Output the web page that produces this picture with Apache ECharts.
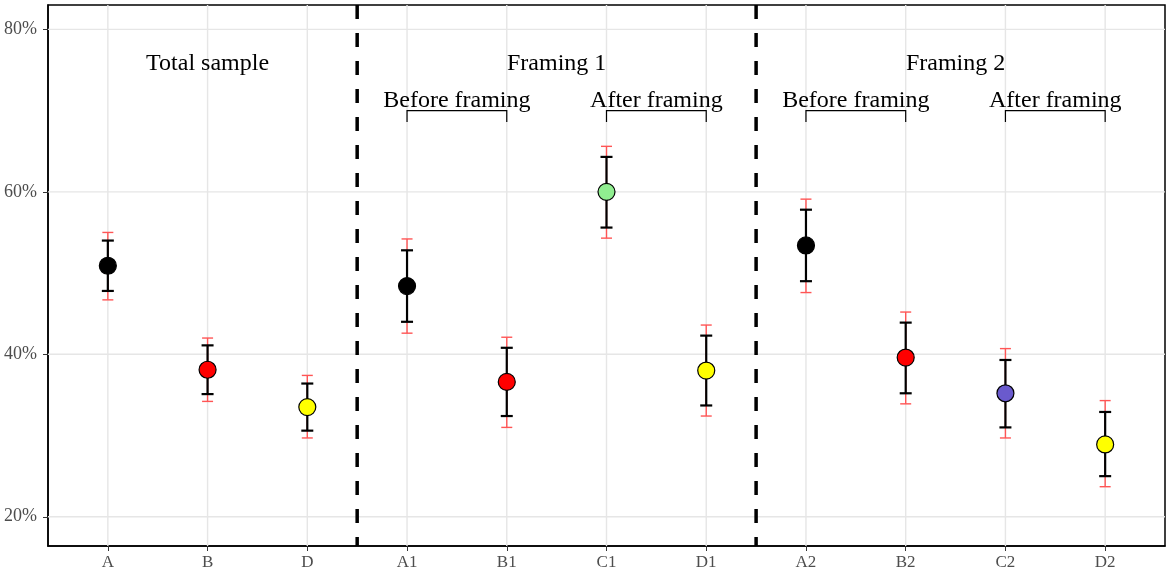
<!DOCTYPE html>
<html><head><meta charset="utf-8">
<script src="https://cdn.jsdelivr.net/npm/echarts@6/dist/echarts.min.js"></script>
<style>html,body{margin:0;padding:0;background:#fff}#c{width:1170px;height:574px}</style>
</head><body><div id="c"></div>
<script>
const categories = ['A','B','D','A1','B1','C1','D1','A2','B2','C2','D2'];
const pointValues = [50.9,38.1,33.5,48.4,36.6,60.0,38.0,53.4,39.6,35.2,28.9];
const pointColors = ['#000000','#FF0000','#FFFF00','#000000','#FF0000','#90EE90','#FFFF00','#000000','#FF0000','#6A5ACD','#FFFF00'];
const innerLow  = [47.8,35.1,30.6,44.0,32.4,55.6,33.7,49.0,35.2,31.0,25.0];
const innerHigh = [54.0,41.1,36.4,52.8,40.8,64.3,42.3,57.8,43.9,39.3,32.9];
const outerLow  = [46.7,34.2,29.7,42.6,31.0,54.3,32.4,47.6,33.9,29.7,23.7];
const outerHigh = [55.0,42.0,37.4,54.2,42.1,65.6,43.6,59.1,45.2,40.7,34.3];
const yTicks = [20,40,60,80];
const separators = [3.5, 7.5];
const groupTitles = ['Total sample','Framing 1','Framing 2'];
const groupTitlePos = [2, 5.5, 9.5];
const bracketLabels = ['Before framing','After framing','Before framing','After framing'];
const bracketStart = [4, 6, 8, 10];
const bracketEnd = [5, 7, 9, 11];
const titleLevel = 75.75;
const bracketLevel = 70;
const bracketLeg = 68.6;
const bracketTextLevel = 71.25;

const xPos = categories.map((c,i)=>i+1);
const FONT = 'Liberation Serif';

const chart = echarts.init(document.getElementById('c'), null, {renderer:'canvas'});

function errRender(color, width, half){
  return function(params, api){
    const x = api.value(0);
    const lo = api.coord([x, api.value(1)]);
    const hi = api.coord([x, api.value(2)]);
    const st = {stroke: color, lineWidth: width};
    return {type:'group', children:[
      {type:'line', shape:{x1:lo[0],y1:lo[1],x2:hi[0],y2:hi[1]}, style:st},
      {type:'line', shape:{x1:lo[0]-half,y1:lo[1],x2:lo[0]+half,y2:lo[1]}, style:st},
      {type:'line', shape:{x1:hi[0]-half,y1:hi[1],x2:hi[0]+half,y2:hi[1]}, style:st}
    ]};
  };
}

const option = {
  animation:false,
  backgroundColor:'#ffffff',
  grid:{left:48, right:5, top:5, bottom:28, show:true, borderColor:'#000', borderWidth:1.5, backgroundColor:'transparent'},
  xAxis:{type:'value', min:0.4, max:11.6,
    axisLine:{show:true, onZero:false, lineStyle:{color:'#000', width:1.5}},
    axisTick:{show:true, customValues:xPos, length:5, lineStyle:{color:'#333'}},
    axisLabel:{customValues:xPos, formatter:v=>categories[Math.round(v)-1], color:'#4D4D4D', fontFamily:FONT, fontSize:17, margin:8},
    splitLine:{show:false}},
  yAxis:{type:'value', min:16.4, max:83.0,
    axisLine:{show:true, onZero:false, lineStyle:{color:'#000', width:1.5}},
    axisTick:{show:true, customValues:yTicks, length:5, lineStyle:{color:'#333'}},
    axisLabel:{customValues:yTicks, formatter:'{value}%', color:'#4D4D4D', fontFamily:FONT, fontSize:18, margin:11},
    splitLine:{show:false}},
  series:[
    {type:'custom', z:1, silent:true, data:yTicks.map(v=>[v]),
     renderItem:(params, api)=>{
       const cs = params.coordSys; const y = api.coord([0.4, api.value(0)])[1];
       return {type:'line', shape:{x1:cs.x,y1:y,x2:cs.x+cs.width,y2:y}, style:{stroke:'#E6E6E6', lineWidth:1.4}};
     }},
    {type:'custom', z:1, silent:true, data:xPos.map(v=>[v]),
     renderItem:(params, api)=>{
       const cs = params.coordSys; const x = api.coord([api.value(0), 50])[0];
       return {type:'line', shape:{x1:x,y1:cs.y,x2:x,y2:cs.y+cs.height}, style:{stroke:'#E6E6E6', lineWidth:1.4}};
     }},
    {type:'custom', z:5, silent:true, data:separators.map(v=>[v]),
     renderItem:(params, api)=>{
       const cs = params.coordSys; const x = api.coord([api.value(0), 50])[0];
       return {type:'line', shape:{x1:x,y1:cs.y,x2:x,y2:cs.y+cs.height}, style:{stroke:'#000', lineWidth:3.5, lineDash:[14,14]}};
     }},
    {type:'custom', z:3, silent:true, data:xPos.map((x,i)=>[x, outerLow[i], outerHigh[i]]),
     renderItem: errRender('#FF5555', 1.4, 5.5)},
    {type:'custom', z:4, silent:true, data:xPos.map((x,i)=>[x, innerLow[i], innerHigh[i]]),
     renderItem: errRender('#000000', 2.2, 6)},
    {type:'scatter', z:6, symbol:'circle', symbolSize:17,
     data:xPos.map((x,i)=>({value:[x, pointValues[i]], itemStyle:{color:pointColors[i], borderColor:'#000', borderWidth:1.2, opacity:1}}))},
    {type:'custom', z:6, silent:true, data:groupTitles.map((t,i)=>[groupTitlePos[i], titleLevel]),
     renderItem:(params, api)=>{
       const p = api.coord([api.value(0), api.value(1)]);
       return {type:'text', x:p[0], y:p[1], style:{text:groupTitles[params.dataIndex], fontFamily:FONT, fontSize:24, fill:'#000', align:'center', verticalAlign:'middle'}};
     }},
    {type:'custom', z:6, silent:true, data:bracketLabels.map((t,i)=>[bracketStart[i], bracketEnd[i]]),
     renderItem:(params, api)=>{
       const a = api.coord([api.value(0), bracketLevel]);
       const b = api.coord([api.value(1), bracketLevel]);
       const a2 = api.coord([api.value(0), bracketLeg]);
       const t = api.coord([(api.value(0)+api.value(1))/2, bracketTextLevel]);
       return {type:'group', children:[
         {type:'polyline', shape:{points:[[a2[0],a2[1]],[a[0],a[1]],[b[0],b[1]],[b[0],a2[1]]]}, style:{stroke:'#000', lineWidth:1.2, fill:null}},
         {type:'text', x:t[0], y:t[1], style:{text:bracketLabels[params.dataIndex], fontFamily:FONT, fontSize:24, fill:'#000', align:'center', verticalAlign:'middle'}}
       ]};
     }}
  ]
};
chart.setOption(option);
</script>
</body></html>
